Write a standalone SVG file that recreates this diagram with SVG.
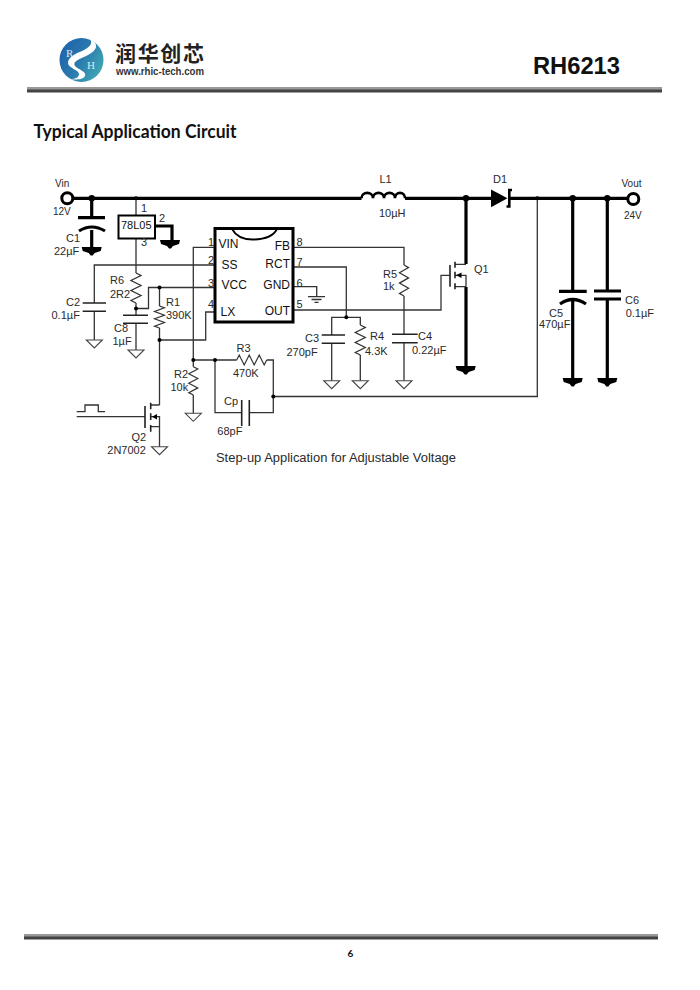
<svg xmlns="http://www.w3.org/2000/svg" width="700" height="990" viewBox="0 0 700 990">
<style>
text{font-family:"Liberation Sans",Arial,sans-serif;font-size:11px;fill:#2a2a2a}
.p{font-size:12px;fill:#111}
.s{font-size:10px}
.w{fill:none;stroke:#333;stroke-width:1.3}
.t{fill:none;stroke:#000;stroke-width:3.2}
.m{fill:none;stroke:#222;stroke-width:1.6}
.b{fill:#000}
.g{fill:none;stroke:#444;stroke-width:1.1}
</style>
<defs>
<linearGradient id="lg" x1="0" y1="0" x2="1" y2="0.6"><stop offset="0" stop-color="#1c5fa8"/><stop offset="0.55" stop-color="#2a78ae"/><stop offset="1" stop-color="#3fa3b4"/></linearGradient>
<path id="gnd" d="M-10,0H10L9,4L3,6L1,8.500H-1L-3,6L-9,4Z" class="b"/>
<path id="tri" d="M-8,0H8L0,8Z" class="g"/>
<path id="zv" d="M0,0L5,2.500L-5,7.500L5,12.500L-5,17.500L5,22.500L-5,27.500L0,30" fill="none" stroke="#333" stroke-width="1.300"/>
<circle id="dot" r="2" class="b"/>
<circle id="bd" r="3.200" class="b"/>
</defs>

<g id="header">
<circle cx="81.500" cy="60" r="22" fill="url(#lg)"/>
<path d="M90,39C99,43 98,50 88,55C80,59 72,61 75,66C78,70 87,71 85,76C83,80 75,80 70,79C76,79 79,77 79,74C79,70 68,68 68,63C68,56 78,53 84,50C90,47 93,43 90,39Z" fill="#fff"/>
<text x="66" y="57" style="font-family:'Liberation Serif',serif;font-size:11px;fill:#dfe9f2">R</text>
<text x="87" y="68.500" style="font-family:'Liberation Serif',serif;font-size:11px;fill:#dfe9f2">H</text>
<text x="115" y="60.500" textLength="89" style="font-family:'Noto Sans CJK SC',sans-serif;font-size:21px;font-weight:700;fill:#222">润华创芯</text>
<text x="116" y="74.500" textLength="88" lengthAdjust="spacingAndGlyphs" style="font-size:10px;font-weight:700;fill:#333">www.rhic-tech.com</text>
<text x="533" y="73.500" textLength="87" lengthAdjust="spacingAndGlyphs" style="font-size:24px;font-weight:700;fill:#111">RH6213</text>
<rect x="27" y="87" width="635" height="3" fill="#999"/>
<rect x="27" y="89.500" width="635" height="3" fill="#444"/>
<text x="33.500" y="138" textLength="203" lengthAdjust="spacingAndGlyphs" style="font-family:Lato,sans-serif;font-size:18px;font-weight:700;fill:#111">Typical Application Circuit</text>
</g>

<g id="connectors">
<path class="t" d="M73,198.300H361.500M405,198.300H491M509,198.300H628"/>
<path class="t" d="M91.700,198.300V217M91.700,230V248"/>
<path class="t" d="M155,226H172V241"/>
<path class="t" d="M466,198.300V264M466,287V370"/>
<path class="t" d="M572.700,198.300V291M572.700,299V380"/>
<path class="t" d="M607.300,198.300V291M607.300,299V380"/>
<path class="w" d="M136,198.300V215M136,238V273M136,303V315M136,323.500V350"/>
<path class="w" d="M94.300,340V311.500M94.300,303V265H215"/>
<path class="w" d="M136,308.500H148.500V287.500H215"/>
<path class="w" d="M159.500,287.500V306M159.500,328V405"/>
<path class="w" d="M159.500,340H205.700V312H215"/>
<path class="w" d="M193.300,366.700V247.300H215"/>
<path class="w" d="M193.300,360H236.700M266.700,360H273.300V412.700H249.300M241.700,412.700H215V360"/>
<path class="w" d="M193.300,395V413.300"/>
<path class="w" d="M273.300,396.500H537.300V198.300"/>
<path class="w" d="M293,247.300H404V265M404,296V334.300M404,342.700V380.700"/>
<path class="w" d="M293,267H346.300V317.300"/>
<path class="w" d="M331.700,335V317.300H360.300V325M360.300,355V380.700M331.700,343.300V380.700"/>
<path class="w" d="M293,286.700H316.700V296.700"/>
<path class="w" d="M293,310H441V275.300H450"/>
<path class="w" d="M76.700,416.700H145"/>
<path class="w" d="M150.700,405H159.500M150.700,426.700H159.500V446.700M150.700,416.700H159.500V426.700"/>
<path class="w" d="M455,264.300H466M455,286.700H466M455,275.300H466V286.700"/>
<path class="w" stroke-width="1" d="M76.700,411.700H85V405H98.300V411.700H105"/>
<use href="#dot" x="136" y="198.300"/>
<use href="#dot" x="136" y="308.500"/>
<use href="#dot" x="159.500" y="287.500"/>
<use href="#dot" x="159.500" y="340"/>
<use href="#dot" x="193.300" y="360"/>
<use href="#dot" x="215" y="360"/>
<use href="#dot" x="273.300" y="396.500"/>
<use href="#dot" x="346.300" y="317.300"/>
<use href="#dot" x="537.300" y="198.300"/>
<use href="#bd" x="91.700" y="198.300"/>
<use href="#bd" x="466" y="198.300"/>
<use href="#bd" x="572.700" y="198.300"/>
<use href="#bd" x="607.300" y="198.300"/>
</g>

<g id="Vin"><circle cx="67.300" cy="198.300" r="5.500" fill="#fff" stroke="#000" stroke-width="3"/><text class="s" x="55" y="187">Vin</text><text class="s" x="53" y="215">12V</text></g>
<g id="Vout"><circle cx="633.300" cy="199" r="5.500" fill="#fff" stroke="#000" stroke-width="3"/><text class="s" x="621.500" y="187.300">Vout</text><text class="s" x="624" y="219.300">24V</text></g>

<g id="C1"><path class="t" d="M78,217.700H105M79,231Q91.700,223 105,231"/><use href="#gnd" x="91.700" y="247"/><text x="66" y="242">C1</text><text x="54" y="255">22µF</text></g>
<g id="U2"><rect x="118.500" y="215.500" width="36.500" height="23" fill="#fff" stroke="#000" stroke-width="2"/><text x="121" y="229" class="p" style="font-size:11px">78L05</text><text x="141" y="211.700">1</text><text x="159" y="221.700">2</text><text x="141" y="246">3</text><use href="#gnd" x="170" y="240"/></g>
<g id="R6"><use href="#zv" x="136" y="273"/><text x="110" y="284">R6</text><text x="110" y="298">2R2</text></g>
<g id="C2"><path class="m" d="M82.700,303H106M82.700,311.300H106"/><use href="#tri" x="94.300" y="340"/><text x="66" y="306">C2</text><text x="51.500" y="319">0.1µF</text></g>
<g id="C8"><path class="m" d="M123,315.300H148M123,323.300H148"/><use href="#tri" x="136" y="350"/><text x="114" y="332">C8</text><text x="112.500" y="344.500">1µF</text></g>
<g id="R1"><path transform="translate(159.500 306) scale(1 .733)" d="M0,0L5,2.500L-5,7.500L5,12.500L-5,17.500L5,22.500L-5,27.500L0,30" fill="none" stroke="#333" stroke-width="1.500"/><text x="166" y="306">R1</text><text x="166" y="319">390K</text></g>

<g id="IC">
<rect x="215" y="228.500" width="78" height="93.500" fill="none" stroke="#000" stroke-width="3"/>
<path d="M232,229Q238,240 254,239.500Q272,239 277,229" fill="none" stroke="#000" stroke-width="1.800"/>
<text class="p" x="218.500" y="247.700">VIN</text><text class="p" x="221.500" y="269">SS</text><text class="p" x="221.500" y="289">VCC</text><text class="p" x="220.500" y="316">LX</text>
<text class="p" x="290" y="250" text-anchor="end">FB</text><text class="p" x="290" y="268.300" text-anchor="end">RCT</text><text class="p" x="290" y="289" text-anchor="end">GND</text><text class="p" x="290" y="315" text-anchor="end">OUT</text>
<text x="208" y="246">1</text><text x="208" y="264">2</text><text x="208" y="286.500">3</text><text x="208" y="307.700">4</text>
<text x="296.500" y="246">8</text><text x="296.500" y="266">7</text><text x="296.500" y="286.700">6</text><text x="296.500" y="308.300">5</text>
<path class="w" d="M308,296.700H325M311.500,299.500H321.500M314.500,302.300H318.500"/>
</g>

<g id="L1"><path d="M361.500,198.300C361.500,191 373,191 373,198.300C373,191 384,191 384,198.300C384,191 395,191 395,198.300C395,191 405,191 405,198.300" fill="none" stroke="#000" stroke-width="2.600"/><text x="379.500" y="183.300">L1</text><text x="379" y="216.700">10µH</text></g>
<g id="D1"><path class="b" d="M491,189.500L507.500,198.300L491,207.300Z"/><path d="M512,190H509.300V206.500H506.500" fill="none" stroke="#000" stroke-width="2.600"/><text x="493" y="182.700">D1</text></g>
<g id="Q1"><path class="m" d="M455,261.700V267.700M455,271.700V278.300M455,283.300V289.300M450,265V286.700"/><path class="b" d="M456,275.300L461.500,272.500V278Z"/><text x="474" y="273.300">Q1</text></g>
<use id="GQ1" href="#gnd" x="465.700" y="366"/>
<g id="C5"><path class="t" d="M559,291.300H586.700M560,304Q572.700,295 586,304"/><use href="#gnd" x="572.700" y="378"/><text x="549" y="316.700">C5</text><text x="539" y="327.700">470µF</text></g>
<g id="C6"><path class="t" d="M594,291H621M594,299H621"/><use href="#gnd" x="607.300" y="378"/><text x="625" y="304.300">C6</text><text x="625.700" y="316.700">0.1µF</text></g>
<g id="R5"><path transform="translate(404 265) scale(.9 1.033)" d="M0,0L5,2.500L-5,7.500L5,12.500L-5,17.500L5,22.500L-5,27.500L0,30" fill="none" stroke="#333" stroke-width="1.300"/><text x="383" y="277.700">R5</text><text x="383" y="290">1k</text></g>
<g id="C3"><path class="m" d="M321.700,335H345M321.700,343.300H345"/><use href="#tri" x="331.700" y="380.700"/><text x="305" y="341.700">C3</text><text x="286.500" y="356">270pF</text></g>
<g id="R4"><use href="#zv" x="360.300" y="325"/><use href="#tri" x="360.300" y="380.700"/><text x="370" y="340">R4</text><text x="365" y="355">4.3K</text></g>
<g id="C4"><path class="m" d="M392,334.300H417.700M392,342.700H417.700"/><use href="#tri" x="404" y="380.700"/><text x="418" y="340">C4</text><text x="412" y="354">0.22µF</text></g>
<g id="R2"><path transform="translate(193.300 366.700) scale(.9 .943)" d="M0,0L5,2.500L-5,7.500L5,12.500L-5,17.500L5,22.500L-5,27.500L0,30" fill="none" stroke="#333" stroke-width="1.300"/><use href="#tri" x="193.300" y="413.300"/><text x="174" y="378.300">R2</text><text x="170.500" y="390.700">10k</text></g>
<g id="R3"><path d="M236.700,360L239.200,355L244.200,365L249.200,355L254.200,365L259.200,355L264.200,365L266.700,360" fill="none" stroke="#333" stroke-width="1.200"/><text x="236.500" y="351.700">R3</text><text x="233" y="376.700">470K</text></g>
<g id="Cp"><path class="m" d="M241.700,400V426M249.300,400V426"/><text x="224" y="405">Cp</text><text x="217.300" y="435">68pF</text></g>
<g id="Q2"><path class="m" d="M150.700,402.700V409.300M150.700,413.300V420M150.700,425V431.700M145,406V428"/><path class="b" d="M152,416.700L157,414V419.400Z"/><use href="#tri" x="159.500" y="446.700"/><text x="131.500" y="440.700">Q2</text><text x="107.300" y="454">2N7002</text></g>

<text id="caption" x="216" y="462" textLength="240" lengthAdjust="spacingAndGlyphs" style="font-size:12.500px">Step-up Application for Adjustable Voltage</text>

<g id="footer">
<rect x="24" y="934" width="634" height="3" fill="#999"/>
<rect x="24" y="936.500" width="634" height="3" fill="#444"/>
<text x="347.500" y="956.500" style="font-family:Lato,sans-serif;font-size:10px;font-weight:700;fill:#111">6</text>
</g>
</svg>
